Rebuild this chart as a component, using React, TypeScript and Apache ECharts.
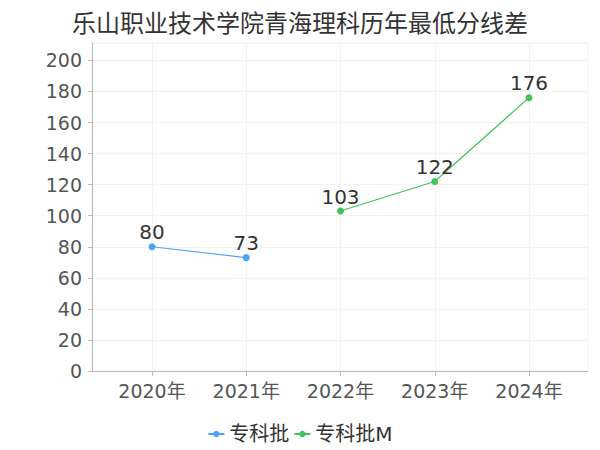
import React, { useEffect, useRef } from "react";
import * as echarts from "echarts";

const title = "乐山职业技术学院青海理科历年最低分线差";
const categories = ["2020年", "2021年", "2022年", "2023年", "2024年"];
const seriesNames = ["专科批", "专科批M"];
const seriesA = [80, 73, null, null, null];
const seriesB = [null, null, 103, 122, 176];
const yMin = 0;
const yMax = 211.2;
const yInterval = 20;

const colorA = "#4ea4f4";
const colorB = "#41c25a";

export default function App() {
  const ref = useRef<HTMLDivElement>(null);
  useEffect(() => {
    if (!ref.current) return;
    const chart = echarts.init(ref.current, undefined, { renderer: "svg" });
    const font = "'DejaVu Sans', 'Noto Sans CJK SC', sans-serif";
    chart.setOption({
      animation: false,
      title: {
        text: title,
        left: "center",
        top: 4,
        textStyle: { fontSize: 24, fontWeight: "normal", color: "#333", fontFamily: "'Noto Sans CJK SC', sans-serif" },
      },
      legend: {
        top: 419,
        left: "center",
        itemWidth: 16,
        itemHeight: 8,
        itemGap: 4,
        textStyle: { fontSize: 20, color: "#333", fontFamily: font },
        data: seriesNames,
      },
      grid: [
        { left: 92, right: 12, top: 43, bottom: 79, show: true, borderColor: "#f0f0f0", borderWidth: 1, containLabel: false },
        { left: 152, right: 71, top: 43, bottom: 79, containLabel: false },
      ],
      xAxis: [
        {
          gridIndex: 0,
          type: "value",
          min: 0,
          max: 1,
          axisLine: { show: true, onZero: false, lineStyle: { color: "#bbb" } },
          axisTick: { show: false },
          axisLabel: { show: false },
          splitLine: { show: false },
        },
        {
          gridIndex: 1,
          type: "category",
          data: categories,
          boundaryGap: false,
          axisLine: { show: false },
          axisTick: { show: true, length: 5, lineStyle: { color: "#bbb" } },
          axisLabel: { fontSize: 19, color: "#555", margin: 10, fontFamily: font },
          splitLine: { show: true, lineStyle: { color: "#f2f2f2" } },
        },
      ],
      yAxis: [
        {
          gridIndex: 0,
          type: "value",
          min: yMin,
          max: yMax,
          interval: yInterval,
          offset: 4,
          axisLine: { show: true, lineStyle: { color: "#bbb" } },
          axisTick: { show: true, length: 4, lineStyle: { color: "#bbb" } },
          axisLabel: { fontSize: 19, color: "#555", margin: 6, fontFamily: font, showMaxLabel: false },
          splitLine: { show: true, lineStyle: { color: "#f2f2f2" } },
        },
        {
          gridIndex: 1,
          type: "value",
          min: yMin,
          max: yMax,
          interval: yInterval,
          show: false,
          splitLine: { show: false },
        },
      ],
      series: [
        {
          name: seriesNames[0],
          type: "line",
          xAxisIndex: 1,
          yAxisIndex: 1,
          data: seriesA,
          color: colorA,
          symbol: "circle",
          symbolSize: 7,
          lineStyle: { width: 1.2 },
          label: { show: true, position: "top", fontSize: 20, color: "#333", distance: 1, fontFamily: font },
        },
        {
          name: seriesNames[1],
          type: "line",
          xAxisIndex: 1,
          yAxisIndex: 1,
          data: seriesB,
          color: colorB,
          symbol: "circle",
          symbolSize: 7,
          lineStyle: { width: 1.2 },
          label: { show: true, position: "top", fontSize: 20, color: "#333", distance: 1, fontFamily: font },
        },
      ],
    });
    return () => chart.dispose();
  }, []);
  return <div ref={ref} style={{ width: 600, height: 450, position: "absolute", left: 0, top: 0 }} />;
}
